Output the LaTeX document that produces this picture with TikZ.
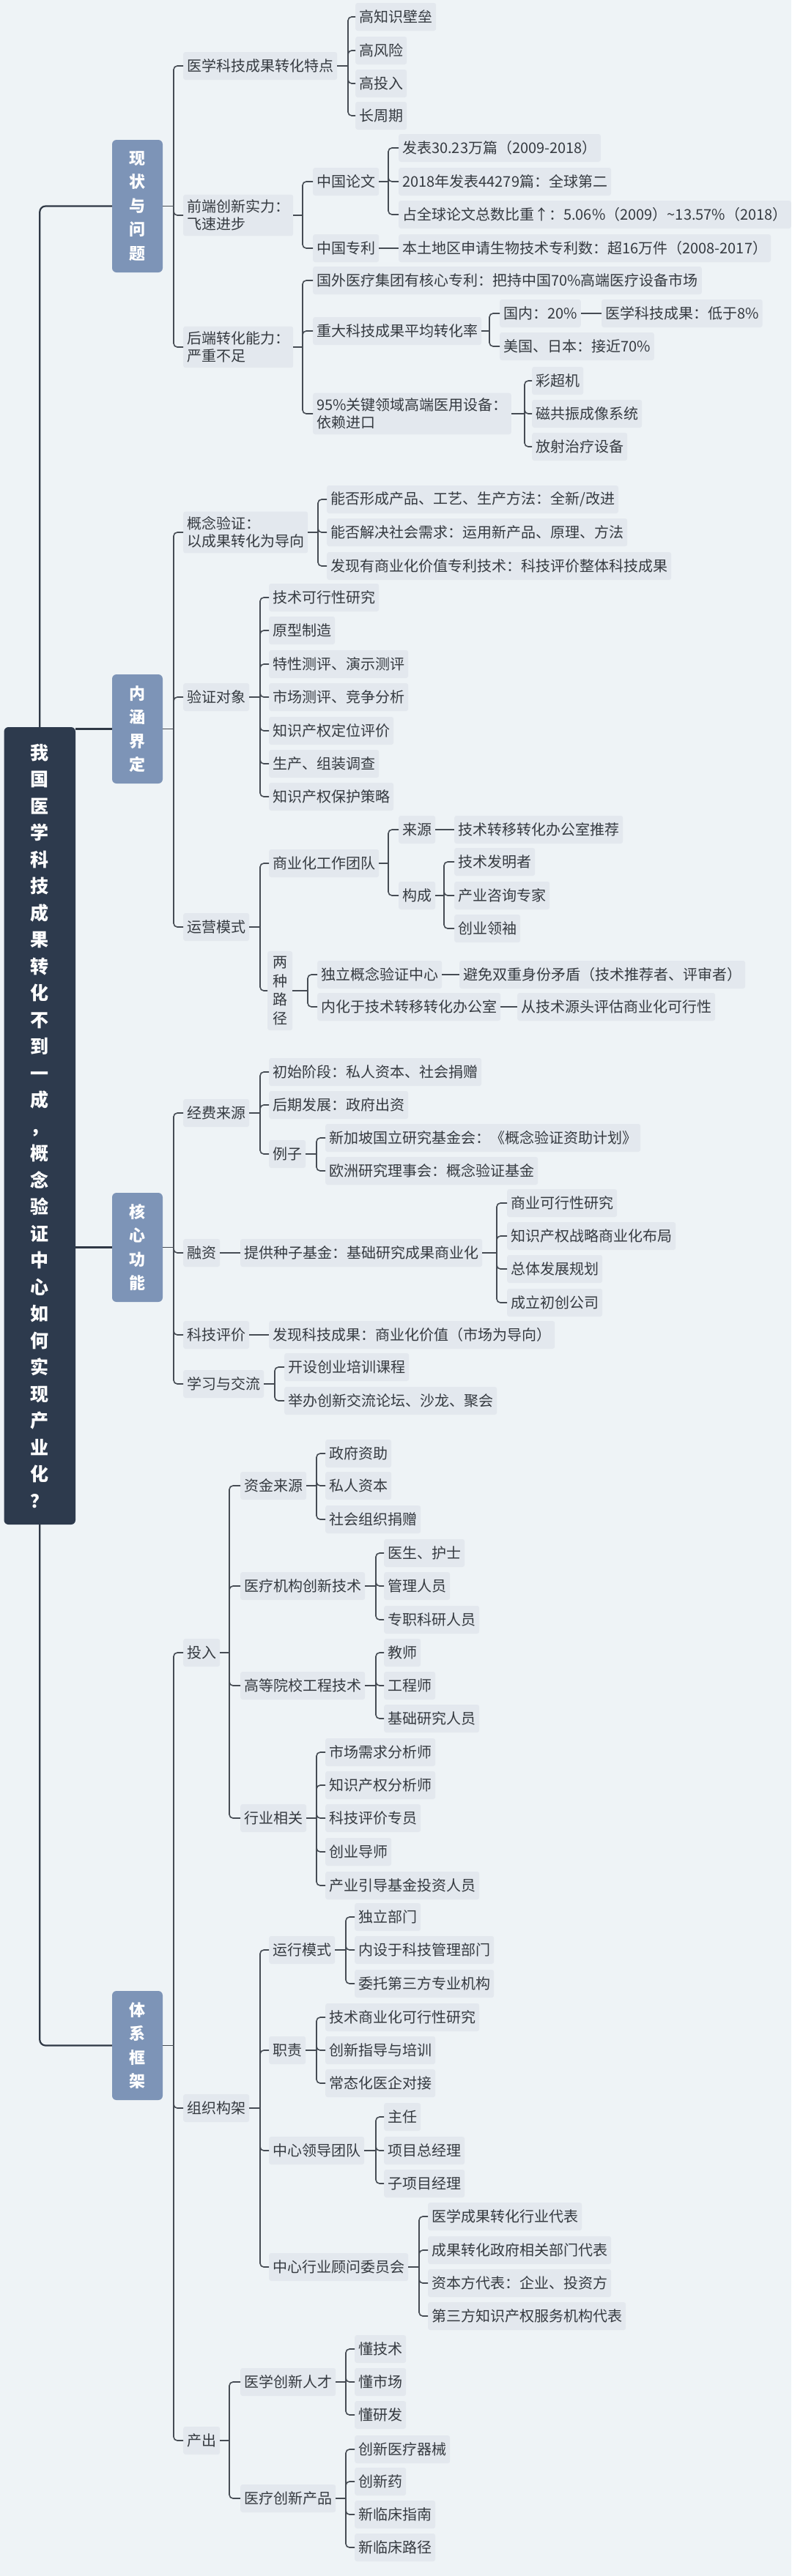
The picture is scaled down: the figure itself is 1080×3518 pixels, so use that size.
\documentclass[tikz,border=0pt]{standalone}
\usepackage{fontspec}
\setmainfont{Noto Sans CJK SC}
\definecolor{bg}{HTML}{EEF3F6}
\definecolor{nodebg}{HTML}{E3E8EE}
\definecolor{txt}{HTML}{353A40}
\definecolor{rootc}{HTML}{2D3A4D}
\definecolor{lonec}{HTML}{7D94B7}
\definecolor{linec}{HTML}{464C54}
\definecolor{trunkc}{HTML}{2F3845}
\newcommand\fan[3]{%
  \path (#2,0) coordinate (spx);
  \draw[conn] (#1.east) -- (#1.east -| spx);
  \foreach \c in {#3}{\draw[conn,rounded corners=5pt] (#1.east -| spx) |- (\c.west);}%
}
\tikzset{
  t/.style={anchor=west, fill=nodebg, rounded corners=3pt, inner xsep=5pt, inner ysep=7pt,
    minimum height=38pt, text=txt, font=\fontsize{20}{24}\selectfont, align=left},
  vt/.style={t, inner xsep=7pt, align=center, font=\fontsize{20}{25.7}\selectfont},
  rootbox/.style={fill=rootc, rounded corners=6pt, text=white, align=center, inner sep=0pt,
    font=\bfseries\fontsize{25}{36.5}\selectfont, minimum width=97.5pt, minimum height=1089pt},
  lone/.style={fill=lonec, rounded corners=6pt, text=white, align=center, inner sep=0pt,
    font=\bfseries\fontsize{22}{32.5}\selectfont, minimum width=69pt},
  conn/.style={draw=linec, line width=1.6pt},
  trunk/.style={draw=trunkc, line width=2.2pt}
}
\begin{document}
\begin{tikzpicture}[x=1pt,y=-1pt]
\useasboundingbox (0,0) rectangle (1080,3518);
\fill[bg] (0,0) rectangle (1080,3518);

% root and level one
\node[rootbox] (root) at (54.25,1537.5) {我\\国\\医\\学\\科\\技\\成\\果\\转\\化\\不\\到\\一\\成\\，\\概\\念\\验\\证\\中\\心\\如\\何\\实\\现\\产\\业\\化\\？};
\node[lone, minimum height=181pt] (La) at (187.5,281.5) {现\\状\\与\\问\\题};
\node[lone, minimum height=149pt] (Lb) at (187.5,995.5) {内\\涵\\界\\定};
\node[lone, minimum height=149pt] (Lc) at (187.5,1703.5) {核\\心\\功\\能};
\node[lone, minimum height=149pt] (Ld) at (187.5,2793.5) {体\\系\\框\\架};
\draw[trunk, rounded corners=8pt] (root.north) |- (La.west);
\draw[trunk, rounded corners=8pt] (root.south) |- (Ld.west);
\draw[trunk] (root.east |- Lb.west) -- (Lb.west);
\draw[trunk] (root.east |- Lc.west) -- (Lc.west);

% ===== branch 1
\node[t] (a1) at (250,90) {医学科技成果转化特点};
\node[t] (a1a) at (485,23) {高知识壁垒};
\node[t] (a1b) at (485,69) {高风险};
\node[t] (a1c) at (485,114) {高投入};
\node[t] (a1d) at (485,158) {长周期};
\node[t] (a2) at (250,294) {前端创新实力：\\飞速进步};
\node[t] (a2a) at (427,248) {中国论文};
\node[t] (a2a1) at (544,202) {发表30.23万篇（2009-2018）};
\node[t] (a2a2) at (544,248) {2018年发表44279篇：全球第二};
\node[t] (a2a3) at (544,293) {占全球论文总数比重↑：5.06\%（2009）\textasciitilde13.57\%（2018）};
\node[t] (a2b) at (427,339) {中国专利};
\node[t] (a2b1) at (544,339) {本土地区申请生物技术专利数：超16万件（2008-2017）};
\node[t] (a3) at (250,474) {后端转化能力：\\严重不足};
\node[t] (a3a) at (427,383) {国外医疗集团有核心专利：把持中国70\%高端医疗设备市场};
\node[t] (a3b) at (427,452) {重大科技成果平均转化率};
\node[t] (a3b1) at (682,428) {国内：20\%};
\node[t] (a3b1x) at (821,428) {医学科技成果：低于8\%};
\node[t] (a3b2) at (682,473) {美国、日本：接近70\%};
\node[t] (a3c) at (427,565) {95\%关键领域高端医用设备：\\依赖进口};
\node[t] (a3c1) at (726,520) {彩超机};
\node[t] (a3c2) at (726,565) {磁共振成像系统};
\node[t] (a3c3) at (726,610) {放射治疗设备};
\fan{La}{237}{a1,a2,a3}
\fan{a1}{475}{a1a,a1b,a1c,a1d}
\fan{a2}{413}{a2a,a2b}
\fan{a2a}{530}{a2a1,a2a2,a2a3}
\draw[conn] (a2b.east) -- (a2b1.west);
\fan{a3}{413}{a3a,a3b,a3c}
\fan{a3b}{668}{a3b1,a3b2}
\draw[conn] (a3b1.east) -- (a3b1x.west);
\fan{a3c}{716}{a3c1,a3c2,a3c3}

% ===== branch 2
\node[t] (b1) at (250,727) {概念验证：\\以成果转化为导向};
\node[t] (b1a) at (446,682) {能否形成产品、工艺、生产方法：全新/改进};
\node[t] (b1b) at (446,727) {能否解决社会需求：运用新产品、原理、方法};
\node[t] (b1c) at (446,773) {发现有商业化价值专利技术：科技评价整体科技成果};
\node[t] (b2) at (250,952) {验证对象};
\node[t] (b2a) at (367,816) {技术可行性研究};
\node[t] (b2b) at (367,861) {原型制造};
\node[t] (b2c) at (367,907) {特性测评、演示测评};
\node[t] (b2d) at (367,952) {市场测评、竞争分析};
\node[t] (b2e) at (367,998) {知识产权定位评价};
\node[t] (b2f) at (367,1043) {生产、组装调查};
\node[t] (b2g) at (367,1088) {知识产权保护策略};
\node[t] (b3) at (250,1266) {运营模式};
\node[t] (b3a) at (367,1179) {商业化工作团队};
\node[t] (b3a1) at (544,1133) {来源};
\node[t] (b3a1x) at (620,1133) {技术转移转化办公室推荐};
\node[t] (b3a2) at (544,1223) {构成};
\node[t] (b3a2a) at (620,1177) {技术发明者};
\node[t] (b3a2b) at (620,1223) {产业咨询专家};
\node[t] (b3a2c) at (620,1268) {创业领袖};
\node[vt] (b3b) at (365,1353) {两\\种\\路\\径};
\node[t] (b3b1) at (433,1331) {独立概念验证中心};
\node[t] (b3b1x) at (627,1331) {避免双重身份矛盾（技术推荐者、评审者）};
\node[t] (b3b2) at (433,1375) {内化于技术转移转化办公室};
\node[t] (b3b2x) at (706,1375) {从技术源头评估商业化可行性};
\fan{Lb}{237}{b1,b2,b3}
\fan{b1}{434}{b1a,b1b,b1c}
\fan{b2}{355}{b2a,b2b,b2c,b2d,b2e,b2f,b2g}
\fan{b3}{355}{b3a,b3b}
\fan{b3a}{530}{b3a1,b3a2}
\draw[conn] (b3a1.east) -- (b3a1x.west);
\fan{b3a2}{606}{b3a2a,b3a2b,b3a2c}
\fan{b3b}{420}{b3b1,b3b2}
\draw[conn] (b3b1.east) -- (b3b1x.west);
\draw[conn] (b3b2.east) -- (b3b2x.west);

% ===== branch 3
\node[t] (c1) at (250,1520) {经费来源};
\node[t] (c1a) at (367,1464) {初始阶段：私人资本、社会捐赠};
\node[t] (c1b) at (367,1509) {后期发展：政府出资};
\node[t] (c1c) at (367,1576) {例子};
\node[t] (c1c1) at (444,1554) {新加坡国立研究基金会：《概念验证资助计划》};
\node[t] (c1c2) at (444,1599) {欧洲研究理事会：概念验证基金};
\node[t] (c2) at (250,1711) {融资};
\node[t] (c2x) at (328,1711) {提供种子基金：基础研究成果商业化};
\node[t] (c2x1) at (692,1643) {商业可行性研究};
\node[t] (c2x2) at (692,1688) {知识产权战略商业化布局};
\node[t] (c2x3) at (692,1733) {总体发展规划};
\node[t] (c2x4) at (692,1779) {成立初创公司};
\node[t] (c3) at (250,1823) {科技评价};
\node[t] (c3x) at (367,1823) {发现科技成果：商业化价值（市场为导向）};
\node[t] (c4) at (250,1890) {学习与交流};
\node[t] (c4a) at (388,1867) {开设创业培训课程};
\node[t] (c4b) at (388,1913) {举办创新交流论坛、沙龙、聚会};
\fan{Lc}{237}{c1,c2,c3,c4}
\fan{c1}{355}{c1a,c1b,c1c}
\fan{c1c}{432}{c1c1,c1c2}
\draw[conn] (c2.east) -- (c2x.west);
\fan{c2x}{678}{c2x1,c2x2,c2x3,c2x4}
\draw[conn] (c3.east) -- (c3x.west);
\fan{c4}{375}{c4a,c4b}

% ===== branch 4
\node[t] (d1) at (250,2257) {投入};
\node[t] (d1a) at (328,2029) {资金来源};
\node[t] (d1a1) at (444,1985) {政府资助};
\node[t] (d1a2) at (444,2029) {私人资本};
\node[t] (d1a3) at (444,2075) {社会组织捐赠};
\node[t] (d1b) at (328,2166) {医疗机构创新技术};
\node[t] (d1b1) at (524,2121) {医生、护士};
\node[t] (d1b2) at (524,2166) {管理人员};
\node[t] (d1b3) at (524,2212) {专职科研人员};
\node[t] (d1c) at (328,2302) {高等院校工程技术};
\node[t] (d1c1) at (524,2257) {教师};
\node[t] (d1c2) at (524,2302) {工程师};
\node[t] (d1c3) at (524,2347) {基础研究人员};
\node[t] (d1d) at (328,2483) {行业相关};
\node[t] (d1d1) at (444,2393) {市场需求分析师};
\node[t] (d1d2) at (444,2438) {知识产权分析师};
\node[t] (d1d3) at (444,2483) {科技评价专员};
\node[t] (d1d4) at (444,2529) {创业导师};
\node[t] (d1d5) at (444,2575) {产业引导基金投资人员};
\node[t] (d2) at (250,2879) {组织构架};
\node[t] (d2a) at (367,2663) {运行模式};
\node[t] (d2a1) at (484,2618) {独立部门};
\node[t] (d2a2) at (484,2663) {内设于科技管理部门};
\node[t] (d2a3) at (484,2709) {委托第三方专业机构};
\node[t] (d2b) at (367,2800) {职责};
\node[t] (d2b1) at (444,2755) {技术商业化可行性研究};
\node[t] (d2b2) at (444,2800) {创新指导与培训};
\node[t] (d2b3) at (444,2845) {常态化医企对接};
\node[t] (d2c) at (367,2937) {中心领导团队};
\node[t] (d2c1) at (524,2891) {主任};
\node[t] (d2c2) at (524,2937) {项目总经理};
\node[t] (d2c3) at (524,2982) {子项目经理};
\node[t] (d2d) at (367,3096) {中心行业顾问委员会};
\node[t] (d2d1) at (584,3027) {医学成果转化行业代表};
\node[t] (d2d2) at (584,3073) {成果转化政府相关部门代表};
\node[t] (d2d3) at (584,3118) {资本方代表：企业、投资方};
\node[t] (d2d4) at (584,3163) {第三方知识产权服务机构代表};
\node[t] (d3) at (250,3333) {产出};
\node[t] (d3a) at (328,3253) {医学创新人才};
\node[t] (d3a1) at (484,3208) {懂技术};
\node[t] (d3a2) at (484,3253) {懂市场};
\node[t] (d3a3) at (484,3298) {懂研发};
\node[t] (d3b) at (328,3412) {医疗创新产品};
\node[t] (d3b1) at (484,3345) {创新医疗器械};
\node[t] (d3b2) at (484,3389) {创新药};
\node[t] (d3b3) at (484,3434) {新临床指南};
\node[t] (d3b4) at (484,3479) {新临床路径};
\fan{Ld}{237}{d1,d2,d3}
\fan{d1}{313}{d1a,d1b,d1c,d1d}
\fan{d1a}{432}{d1a1,d1a2,d1a3}
\fan{d1b}{513}{d1b1,d1b2,d1b3}
\fan{d1c}{513}{d1c1,d1c2,d1c3}
\fan{d1d}{432}{d1d1,d1d2,d1d3,d1d4,d1d5}
\fan{d2}{355}{d2a,d2b,d2c,d2d}
\fan{d2a}{472}{d2a1,d2a2,d2a3}
\fan{d2b}{432}{d2b1,d2b2,d2b3}
\fan{d2c}{513}{d2c1,d2c2,d2c3}
\fan{d2d}{572}{d2d1,d2d2,d2d3,d2d4}
\fan{d3}{313}{d3a,d3b}
\fan{d3a}{472}{d3a1,d3a2,d3a3}
\fan{d3b}{472}{d3b1,d3b2,d3b3,d3b4}
\end{tikzpicture}
\end{document}
